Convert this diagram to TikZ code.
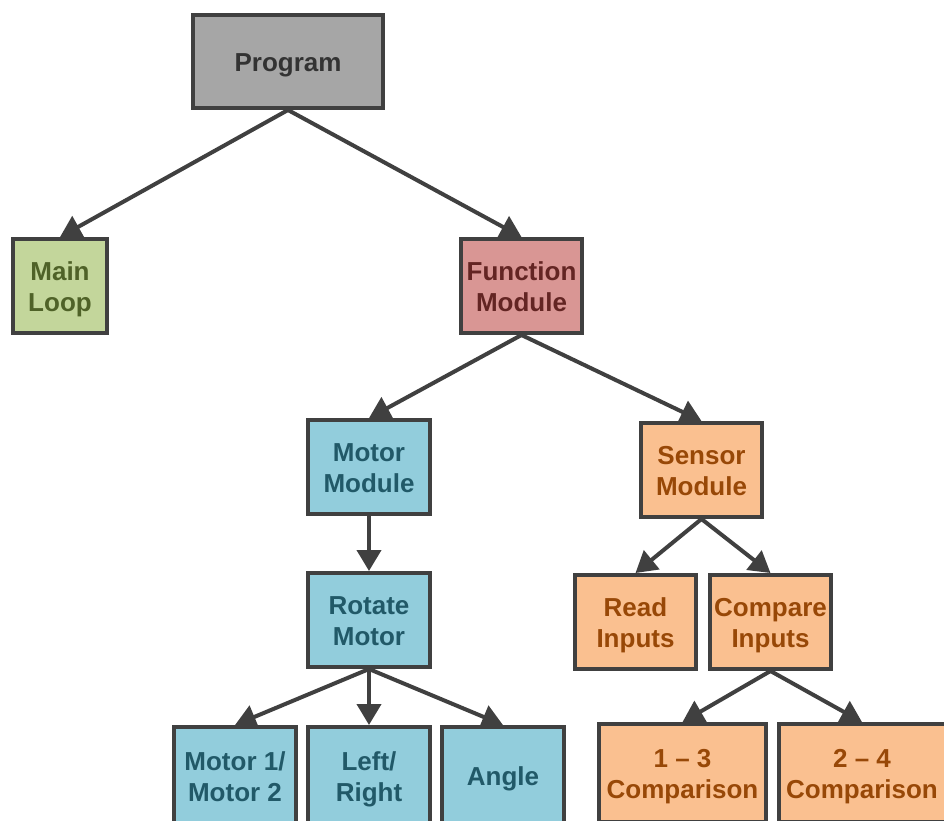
\documentclass[tikz,border=0pt]{standalone}
\usepackage{fontspec}
\setmainfont{Liberation Sans}
\usetikzlibrary{arrows.meta}
\definecolor{edgec}{HTML}{404040}
\definecolor{grayf}{HTML}{A6A6A6}
\definecolor{grayt}{HTML}{333333}
\definecolor{greenf}{HTML}{C3D69B}
\definecolor{greent}{HTML}{4F6228}
\definecolor{redf}{HTML}{D99694}
\definecolor{redt}{HTML}{632523}
\definecolor{bluef}{HTML}{92CDDC}
\definecolor{bluet}{HTML}{215968}
\definecolor{orangef}{HTML}{FAC090}
\definecolor{oranget}{HTML}{984807}
\newcommand{\boxtext}[1]{\raisebox{-3.5pt}[\height][\depth]{\setlength{\tabcolsep}{0pt}\begin{tabular}{c}#1\end{tabular}}}
\tikzset{
  box/.style={draw=edgec, line width=4pt, rectangle, inner sep=0pt,
    font=\fontsize{26}{31}\selectfont\bfseries},
  graybox/.style={box, fill=grayf, text=grayt},
  greenbox/.style={box, fill=greenf, text=greent},
  redbox/.style={box, fill=redf, text=redt},
  bluebox/.style={box, fill=bluef, text=bluet},
  orangebox/.style={box, fill=orangef, text=oranget},
  conn/.style={draw=edgec, line width=4pt, -{Triangle[length=21pt,width=24pt]}},
}
\begin{document}
\begin{tikzpicture}[x=1pt,y=-1pt]
\useasboundingbox (0,0) rectangle (944,820);
\clip (0,0) rectangle (944,820);
\node[graybox, minimum width=190pt, minimum height=93pt] (prog) at (288,61.5) {\boxtext{Program}};
\node[greenbox, minimum width=94pt, minimum height=94pt] (main) at (60,286) {\boxtext{Main\\Loop}};
\node[redbox, minimum width=121pt, minimum height=94pt] (func) at (521.5,286) {\boxtext{Function\\Module}};
\node[bluebox, minimum width=122pt, minimum height=94pt] (motor) at (369,467) {\boxtext{Motor\\Module}};
\node[orangebox, minimum width=121pt, minimum height=94pt] (sensor) at (701.5,470) {\boxtext{Sensor\\Module}};
\node[bluebox, minimum width=122pt, minimum height=94pt] (rotate) at (369,620) {\boxtext{Rotate\\Motor}};
\node[orangebox, minimum width=121pt, minimum height=94pt] (read) at (635.5,622) {\boxtext{Read\\Inputs}};
\node[orangebox, minimum width=121pt, minimum height=94pt] (compare) at (770.5,622) {\boxtext{Compare\\Inputs}};
\node[bluebox, minimum width=122pt, minimum height=98pt] (m12) at (235,776) {\boxtext{Motor 1/\\Motor 2}};
\node[bluebox, minimum width=122pt, minimum height=98pt] (lr) at (369,776) {\boxtext{Left/\\Right}};
\node[bluebox, minimum width=122pt, minimum height=98pt] (angle) at (503,776) {\boxtext{Angle}};
\node[orangebox, minimum width=167pt, minimum height=98pt] (c13) at (682.5,773) {\boxtext{1 – 3\\Comparison}};
\node[orangebox, minimum width=167pt, minimum height=98pt] (c24) at (862,773) {\boxtext{2 – 4\\Comparison}};
\draw[conn] (prog.south) -- (main.north);
\draw[conn] (prog.south) -- (func.north);
\draw[conn] (func.south) -- (motor.north);
\draw[conn] (func.south) -- (sensor.north);
\draw[conn] (motor.south) -- (rotate.north);
\draw[conn] (sensor.south) -- (read.north);
\draw[conn] (sensor.south) -- (compare.north);
\draw[conn] (rotate.south) -- (m12.north);
\draw[conn] (rotate.south) -- (lr.north);
\draw[conn] (rotate.south) -- (angle.north);
\draw[conn] (compare.south) -- (c13.north);
\draw[conn] (compare.south) -- (c24.north);
\end{tikzpicture}
\end{document}
